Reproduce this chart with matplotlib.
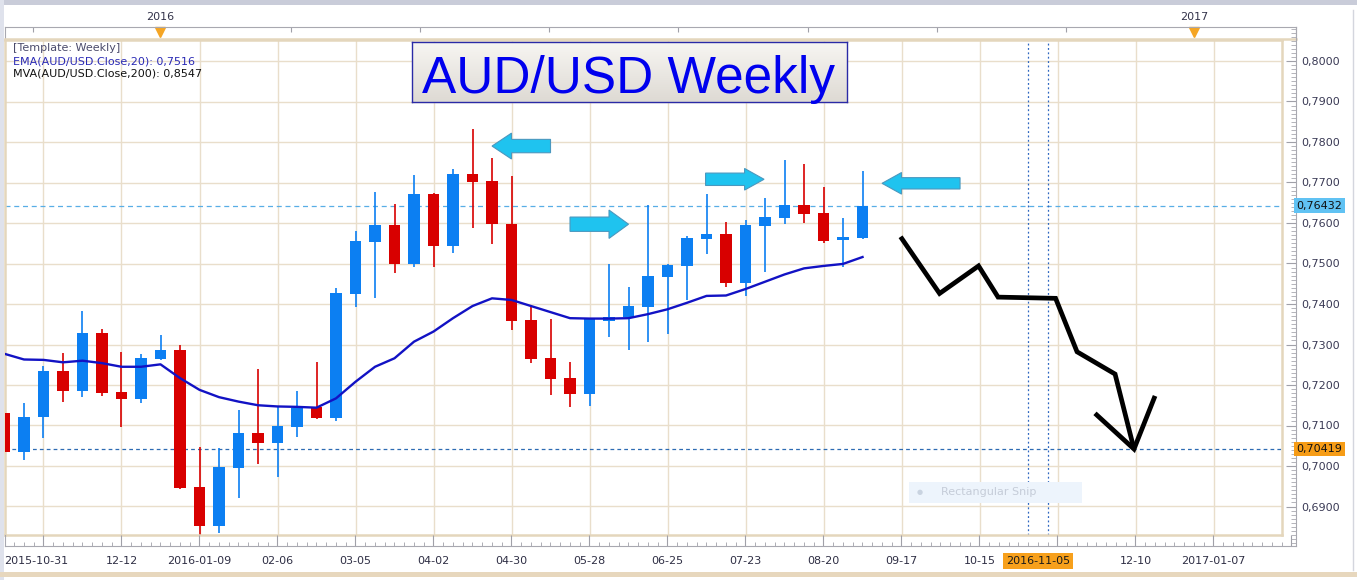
import numpy as np
import pandas as pd
import matplotlib
matplotlib.use("Agg")
import matplotlib.pyplot as plt
from matplotlib.patches import Polygon, Rectangle
from matplotlib.transforms import blended_transform_factory as blend
from matplotlib.ticker import FixedLocator, MultipleLocator, FuncFormatter

# ---------------- data ----------------
start_date = "2015-10-31"
opens = [0.7132, 0.7035, 0.7120, 0.7235, 0.7186, 0.7329, 0.7183, 0.7165, 0.7265, 0.7286,
         0.6948, 0.6853, 0.6996, 0.7081, 0.7058, 0.7097, 0.7146, 0.7119, 0.7425, 0.7554,
         0.7595, 0.7500, 0.7672, 0.7544, 0.7721, 0.7704, 0.7598, 0.7360, 0.7267, 0.7217,
         0.7179, 0.7359, 0.7369, 0.7393, 0.7467, 0.7495, 0.7561, 0.7574, 0.7453, 0.7593,
         0.7613, 0.7644, 0.7625, 0.7557, 0.7564]
highs = [0.7136, 0.7155, 0.7247, 0.7280, 0.7383, 0.7338, 0.7282, 0.7277, 0.7323, 0.7299,
         0.7048, 0.7044, 0.7138, 0.7239, 0.7148, 0.7185, 0.7258, 0.7439, 0.7581, 0.7677,
         0.7646, 0.7719, 0.7675, 0.7733, 0.7832, 0.7760, 0.7716, 0.7393, 0.7363, 0.7256,
         0.7364, 0.7500, 0.7443, 0.7644, 0.7499, 0.7568, 0.7672, 0.7603, 0.7607, 0.7661,
         0.7756, 0.7746, 0.7688, 0.7612, 0.7728]
lows = [0.7032, 0.7015, 0.7070, 0.7159, 0.7171, 0.7174, 0.7097, 0.7156, 0.7262, 0.6944,
        0.6830, 0.6834, 0.6920, 0.7004, 0.6974, 0.7071, 0.7117, 0.7110, 0.7393, 0.7416,
        0.7477, 0.7492, 0.7492, 0.7527, 0.7587, 0.7548, 0.7336, 0.7255, 0.7176, 0.7146,
        0.7149, 0.7318, 0.7287, 0.7306, 0.7325, 0.7410, 0.7523, 0.7443, 0.7420, 0.7480,
        0.7597, 0.7599, 0.7551, 0.7492, 0.7561]
closes = [0.7035, 0.7121, 0.7235, 0.7186, 0.7329, 0.7180, 0.7165, 0.7267, 0.7286, 0.6946,
          0.6853, 0.6998, 0.7081, 0.7058, 0.7099, 0.7144, 0.7119, 0.7426, 0.7556, 0.7595,
          0.7500, 0.7672, 0.7544, 0.7721, 0.7702, 0.7597, 0.7359, 0.7265, 0.7216, 0.7179,
          0.7364, 0.7369, 0.7395, 0.7469, 0.7496, 0.7564, 0.7574, 0.7453, 0.7595, 0.7614,
          0.7644, 0.7623, 0.7556, 0.7565, 0.7643]
ema20 = [0.7277, 0.7263, 0.7262, 0.7256, 0.7260, 0.7254, 0.7245, 0.7245, 0.7251, 0.7217,
         0.7188, 0.7170, 0.7159, 0.7150, 0.7147, 0.7146, 0.7144, 0.7167, 0.7208, 0.7245,
         0.7266, 0.7307, 0.7332, 0.7365, 0.7395, 0.7414, 0.7410, 0.7395, 0.7380, 0.7365,
         0.7364, 0.7364, 0.7365, 0.7375, 0.7387, 0.7403, 0.7420, 0.7421, 0.7437, 0.7455,
         0.7473, 0.7488, 0.7494, 0.7499, 0.7516]
current_price = 0.76432
target_price = 0.70419

# hand-drawn forecast path (week index, price)
forecast_x = [45.95, 47.95, 49.95, 50.95, 53.9, 55.0, 56.95, 57.92]
forecast_y = [0.7566, 0.7426, 0.7494, 0.7417, 0.7414, 0.7282, 0.7227, 0.70419]
head_x = [55.92, 57.92, 59.0]
head_y = [0.7130, 0.70419, 0.7173]

# cyan block arrows: (tip week, price, head-base week, tail week, body half, head half)
arrows = [
    (25.0, 0.7790, 26.0, 28.0, 0.00165, 0.0032),
    (32.0, 0.7597, 31.0, 29.0, 0.00177, 0.0035),
    (38.95, 0.7708, 37.95, 35.95, 0.00153, 0.00267),
    (45.0, 0.7698, 46.0, 49.0, 0.00140, 0.00267),
]

tick_dates = ["2015-10-31", "2015-12-12", "2016-01-09", "2016-02-06", "2016-03-05",
              "2016-04-02", "2016-04-30", "2016-05-28", "2016-06-25", "2016-07-23",
              "2016-08-20", "2016-09-17", "2016-10-15", "2016-12-10", "2017-01-07"]
tick_labels = ["2015-10-31", "12-12", "2016-01-09", "02-06", "03-05", "04-02", "04-30",
               "05-28", "06-25", "07-23", "08-20", "09-17", "10-15", "12-10", "2017-01-07"]
cursor_date = "2016-11-05"
year_labels = ["2016", "2017"]
year_dates = ["2015-12-26", "2016-12-31"]
price_ticks = [0.69, 0.70, 0.71, 0.72, 0.73, 0.74, 0.75, 0.76, 0.77, 0.78, 0.79, 0.80]

weeks = pd.date_range(start_date, periods=70, freq="7D")
def wk(d):
    return int(weeks.get_loc(pd.Timestamp(d)))

# ---------------- figure ----------------
W, H = 1357, 580
fig = plt.figure(figsize=(W / 100, H / 100), dpi=100)
fig.patch.set_facecolor("white")

def fxy(px, py):
    return px / W, 1 - py / H

# page decorations
fig.patches.append(Rectangle((0, 1 - 5 / H), 1, 5 / H, transform=fig.transFigure,
                             fc="#c9ccd9", ec="none", zorder=0))
fig.patches.append(Rectangle((0, 0), 4 / W, 1, transform=fig.transFigure,
                             fc="#dfe2ec", ec="none", zorder=0))
fig.patches.append(Rectangle((0, 1 - 577 / H), 1, 5 / H, transform=fig.transFigure,
                             fc="#e7d7bd", ec="none", zorder=0))

XL = (0.026, 65.51)
YL = (0.68296, 0.80519)
XL2 = (0.026, 0.026 + 1291 / 19.5)

ax = fig.add_axes([5 / W, 1 - 535 / H, 1277 / W, 495 / H])
ax.set_xlim(*XL)
ax.set_ylim(*YL)
ax.set_facecolor("white")
for s in ax.spines.values():
    s.set_color("#e4d6bc")
    s.set_linewidth(1.8)
ax.set_xticks([])
ax.set_yticks([])

grid_c = "#e9decb"
for w in range(2, 66, 4):
    ax.axvline(w, color=grid_c, lw=1.0, zorder=0)
for p in np.arange(0.69, 0.805, 0.01):
    ax.axhline(p, color=grid_c, lw=1.0, zorder=0)

# reference lines
ax.axhline(current_price, color="#58aee6", lw=0.9, ls=(0, (4, 3)), zorder=1)
ax.axhline(target_price, color="#2d6bb3", lw=0.9, ls=(0, (3, 2.5)), zorder=1)
cur = wk(cursor_date)
for v in (cur - 0.5, cur + 0.5):
    ax.axvline(v, color="#2e67c0", lw=0.9, ls=(0, (1.5, 2)), zorder=1)

# candles
x = np.arange(len(opens))
o = np.array(opens); c = np.array(closes); h = np.array(highs); l = np.array(lows)
up = c >= o
cols = np.where(up, "#0c7ff2", "#d80000")
ax.vlines(x, l, h, colors=cols, lw=1.2, zorder=2)
body_lo = np.minimum(o, c)
body_h = np.maximum(np.abs(c - o), 0.00025)
ax.bar(x, body_h, bottom=body_lo, width=0.6, color=cols, edgecolor="none", zorder=3)

# EMA
ax.plot(x, ema20, color="#1212c4", lw=1.7, zorder=4)

# cyan arrows
for tip, yv, base, tail, bh, hh in arrows:
    pts = [(tip, yv), (base, yv + hh), (base, yv + bh), (tail, yv + bh),
           (tail, yv - bh), (base, yv - bh), (base, yv - hh)]
    ax.add_patch(Polygon(pts, closed=True, fc="#1fc3ef", ec="#4a98bf", lw=0.8, zorder=5))

# forecast path
ax.plot(forecast_x, forecast_y, color="black", lw=3.4, solid_joinstyle="miter",
        solid_capstyle="butt", zorder=6)
ax.plot(head_x, head_y, color="black", lw=3.4, solid_joinstyle="miter",
        solid_capstyle="butt", zorder=6)

# legend text
fig.text(*fxy(13, 48), "[Template: Weekly]", fontsize=8, color="#4b4b6b", va="center")
fig.text(*fxy(13, 61), "EMA(AUD/USD.Close,20): 0,7516", fontsize=8, color="#2a2ab5", va="center")
fig.text(*fxy(13, 73.5), "MVA(AUD/USD.Close,200): 0,8547", fontsize=8, color="#111111", va="center")

# ghost snip box
fig.patches.append(Rectangle(fxy(909, 503), 173 / W, 21 / H, transform=fig.transFigure,
                             fc="#edf4fc", ec="none", zorder=1))
fig.text(*fxy(941, 492), "Rectangular Snip", fontsize=8, color="#c5ccd8", va="center")
fig.text(*fxy(920, 492), "\u25CF", fontsize=5, color="#c9d3e0", va="center", ha="center")

# title box
axt = fig.add_axes([412 / W, 1 - 102 / H, 435 / W, 60 / H])
grad = np.linspace(0, 1, 100).reshape(-1, 1)
top_c = np.array([0.97, 0.963, 0.95]); bot_c = np.array([0.87, 0.855, 0.83])
img = top_c[None, None, :] * (1 - grad[:, :, None]) + bot_c[None, None, :] * grad[:, :, None]
axt.imshow(img, aspect="auto", extent=(0, 1, 0, 1))
axt.set_xlim(0, 1); axt.set_ylim(0, 1)
axt.set_xticks([]); axt.set_yticks([])
for s in axt.spines.values():
    s.set_color("#2a2aa6"); s.set_linewidth(1.0)
axt.text(0.497, 0.15, "AUD/USD Weekly", fontsize=37, color="#0000ee",
         family="Liberation Sans", ha="center", va="baseline")

# bottom ruler
axb = fig.add_axes([5 / W, 1 - 546 / H, 1291 / W, 11 / H])
axb.set_xlim(*XL2); axb.set_ylim(0, 1)
axb.patch.set_alpha(0)
for k in ("top", "right"):
    axb.spines[k].set_visible(False)
axb.spines["left"].set_color("#a8a8b0")
axb.spines["bottom"].set_color("#a8a8b0")
axb.set_yticks([])
axb.xaxis.set_major_locator(FixedLocator(list(range(2, 67, 4))))
axb.xaxis.set_minor_locator(FixedLocator(list(np.arange(0.5, 67, 0.5))))
axb.tick_params(axis="x", which="major", direction="in", length=8, color="#a0a0a8",
                labelbottom=False)
axb.tick_params(axis="x", which="minor", direction="in", length=3, color="#a0a0a8")
tb = blend(axb.transData, fig.transFigure)
for d, lab in zip(tick_dates, tick_labels):
    i = wk(d)
    axb.text(i, 1 - 561 / H, lab, transform=tb, ha="left" if i == 0 else "center",
             va="center", fontsize=8, color="#2e2e44", clip_on=False)
axb.text(cur, 1 - 561 / H, cursor_date, transform=tb, ha="center", va="center",
         fontsize=8, color="#1a1a1a", clip_on=False,
         bbox=dict(boxstyle="square,pad=0.25", fc="#f7a01c", ec="none"))

# top ruler
axtop = fig.add_axes([5 / W, 1 - 39 / H, 1291 / W, 12 / H])
axtop.set_xlim(*XL2); axtop.set_ylim(0, 1)
axtop.set_facecolor("white")
axtop.spines["top"].set_color("#a8a8b0")
axtop.spines["left"].set_color("#a8a8b0")
axtop.spines["right"].set_color("#a8a8b0")
axtop.spines["bottom"].set_color("#e4d6bc")
axtop.spines["bottom"].set_linewidth(1.8)
axtop.set_yticks([])
axtop.xaxis.set_ticks_position("top")
axtop.set_xticks(np.arange(1.46, 66, 6.62))
axtop.tick_params(axis="x", direction="in", length=3.5, color="#a0a0a8", labeltop=False)
for lab, d in zip(year_labels, year_dates):
    i = wk(d)
    axtop.plot([i], [0.55], marker="v", ms=7, color="#f5a523", mec="#f5a523", clip_on=False)
    axtop.text(i, 1 - 17 / H, lab, transform=blend(axtop.transData, fig.transFigure),
               ha="center", va="center", fontsize=8, color="#33334a")

# right price ruler
axr = fig.add_axes([1282 / W, 1 - 546 / H, 14 / W, 519 / H])
axr.set_ylim(0.70 - 80 / 4050, 0.70 + 439 / 4050)
axr.set_xlim(0, 1)
axr.patch.set_alpha(0)
for k in ("top", "left", "bottom"):
    axr.spines[k].set_visible(False)
axr.spines["right"].set_color("#a8a8b0")
axr.set_xticks([])
axr.yaxis.set_ticks_position("right")
axr.yaxis.set_major_locator(FixedLocator(price_ticks))
axr.yaxis.set_minor_locator(MultipleLocator(0.001))
axr.yaxis.set_major_formatter(FuncFormatter(lambda v, p: f"{v:.4f}".replace(".", ",")))
axr.tick_params(axis="y", which="major", direction="in", length=7, color="#a0a0a8",
                labelsize=8, labelcolor="#3a3a55", pad=4)
axr.tick_params(axis="y", which="minor", direction="in", length=3.5, color="#a8a8b0")
tr = blend(axr.transAxes, axr.transData)
axr.text(1.05, current_price, f"{current_price:.5f}".replace(".", ","), transform=tr,
         ha="left", va="center", fontsize=8, color="#111111",
         bbox=dict(boxstyle="square,pad=0.2", fc="#60c2f3", ec="none"))
axr.text(1.05, target_price, f"{target_price:.5f}".replace(".", ","), transform=tr,
         ha="left", va="center", fontsize=8, color="#111111",
         bbox=dict(boxstyle="square,pad=0.2", fc="#f69c16", ec="none"))

fig.lines.append(plt.Line2D([1353 / W, 1353 / W], [1 - 570 / H, 1 - 10 / H],
                            transform=fig.transFigure, color="#d4d6de", lw=1))

fig.savefig("out.png", dpi=100)
